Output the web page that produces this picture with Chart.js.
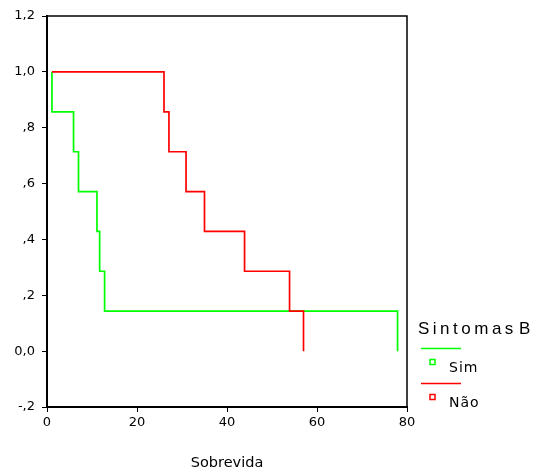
<!DOCTYPE html>
<html>
<head>
<meta charset="utf-8">
<script src="https://cdn.jsdelivr.net/npm/chart.js@4"></script>
<style>
    html, body { margin: 0; padding: 0; background: #fff; }
    #wrap { width: 536px; height: 468px; position: relative; }
</style>
</head>
<body>
<div id="wrap"><canvas id="survivalChartCanvas"></canvas></div>
<script>
// Kaplan-Meier steps (time, survival after the step)
const simTimes = [1.1, 1.1, 5.9, 7.0, 11.1, 11.7, 12.8, 77.9];
const simSurvival = [1.0, 0.857, 0.714, 0.571, 0.429, 0.286, 0.143, 0.0];
const naoTimes = [1.1, 26.0, 27.1, 30.9, 35.0, 43.9, 53.9, 57.0];
const naoSurvival = [1.0, 0.857, 0.714, 0.571, 0.429, 0.286, 0.143, 0.0];

const groupLabels = ['Sim', 'Não'];
const groupColors = ['#00ff00', '#ff0000'];
const legendTitle = 'Sintomas B';
const xTitle = 'Sobrevida';

const toPoints = (times, values) => times.map((t, i) => ({ x: t, y: values[i] }));

// SPSS style numbers: 1,0  ,8  0,0  -,2
function spssLabel(v) {
    const r = Math.round(v * 10) / 10;
    if (r === 0) return '0,0';
    let s = Math.abs(r).toFixed(1).replace('.', ',');
    if (Math.abs(r) < 1) s = s.replace(/^0/, '');
    return (r < 0 ? '-' : '') + s;
}

const framePlugin = {
    id: 'frame',
    afterDraw(chart) {
        const { ctx, chartArea } = chart;
        ctx.save();
        ctx.strokeStyle = '#000';
        ctx.lineWidth = 1.5;
        ctx.beginPath();
        ctx.moveTo(chartArea.left, chartArea.top);
        ctx.lineTo(chartArea.right, chartArea.top);
        ctx.lineTo(chartArea.right, chartArea.bottom);
        ctx.stroke();

        // legend: title, then for each group a line and a hollow square with its label
        ctx.fillStyle = '#000';
        ctx.letterSpacing = '3.5px';
        ctx.wordSpacing = '-6px';
        ctx.font = '17px "Liberation Sans"';
        ctx.textBaseline = 'alphabetic';
        ctx.textAlign = 'left';
        ctx.fillText(legendTitle, 418, 334);
        ctx.letterSpacing = '1px';
        ctx.wordSpacing = '0px';
        ctx.font = '14px "DejaVu Sans"';
        groupLabels.forEach((label, i) => {
            const y0 = 348.5 + i * 35;
            ctx.strokeStyle = groupColors[i];
            ctx.lineWidth = 1.5;
            ctx.beginPath();
            ctx.moveTo(421, y0);
            ctx.lineTo(461, y0);
            ctx.stroke();
            ctx.strokeRect(430, y0 + 11, 5, 5);
            ctx.fillStyle = '#000';
            ctx.fillText(label, 449, y0 + 23.5);
        });
        ctx.restore();
    }
};

const ctx = document.getElementById('survivalChartCanvas').getContext('2d');

new Chart(ctx, {
    type: 'scatter',
    data: {
        datasets: [
            {
                label: groupLabels[0],
                data: toPoints(simTimes, simSurvival),
                borderColor: groupColors[0],
                borderWidth: 1.7,
                showLine: true,
                stepped: true,
                pointRadius: 0,
                order: 1
            },
            {
                label: groupLabels[1],
                data: toPoints(naoTimes, naoSurvival),
                borderColor: groupColors[1],
                borderWidth: 1.7,
                showLine: true,
                stepped: true,
                pointRadius: 0,
                order: 0
            }
        ]
    },
    options: {
        responsive: true,
        maintainAspectRatio: false,
        animation: false,
        layout: { padding: { top: 16, right: 129, left: 0, bottom: 0 } },
        plugins: {
            legend: { display: false },
            tooltip: { enabled: false }
        },
        scales: {
            x: {
                type: 'linear',
                min: 0,
                max: 80,
                ticks: {
                    stepSize: 20,
                    color: '#000',
                    padding: 3,
                    font: { family: 'DejaVu Sans', size: 13 }
                },
                grid: { display: true, drawOnChartArea: false, color: '#000', tickLength: 5 },
                border: { display: true, color: '#000', width: 2 },
                title: {
                    display: true,
                    text: xTitle,
                    color: '#000',
                    padding: 0,
                    font: { family: 'DejaVu Sans', size: 14.5, lineHeight: 0.65 }
                },
                afterFit(scale) { scale.height = 61; }
            },
            y: {
                min: -0.2,
                max: 1.2,
                ticks: {
                    stepSize: 0.2,
                    color: '#000',
                    padding: 7,
                    font: { family: 'DejaVu Sans', size: 13 },
                    callback: v => spssLabel(v)
                },
                grid: { display: true, drawOnChartArea: false, color: '#000', tickLength: 5 },
                border: { display: true, color: '#000', width: 2 },
                afterFit(scale) { scale.width = 47; }
            }
        }
    },
    plugins: [framePlugin]
});
</script>
</body>
</html>
